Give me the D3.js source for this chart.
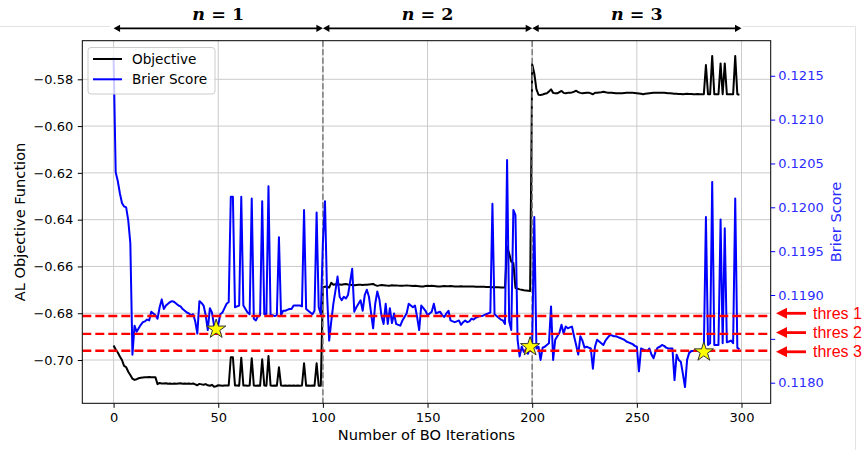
<!DOCTYPE html>
<html>
<head>
<meta charset="utf-8">
<script src="https://cdn.jsdelivr.net/npm/d3@7"></script>
<style>
  html, body { margin: 0; padding: 0; background: #ffffff; }
  svg { display: block; }
</style>
</head>
<body>
<script>
// ---------------- DATA ----------------
const objective = [
  -0.6938, -0.6955, -0.6968, -0.6985, -0.7000, -0.7025, -0.7030, -0.7050, -0.7064, -0.7080,
  -0.7085, -0.7082, -0.7078, -0.7076, -0.7075, -0.7074, -0.7074, -0.7073, -0.7074, -0.7074,
  -0.7074, -0.7103, -0.7098, -0.7100, -0.7100, -0.7099, -0.7101, -0.7100, -0.7102, -0.7100,
  -0.7101, -0.7100, -0.7099, -0.7101, -0.7100, -0.7101, -0.7100, -0.7102, -0.7100, -0.7104,
  -0.7108, -0.7102, -0.7104, -0.7106, -0.7103, -0.7108, -0.7110, -0.7106, -0.7114, -0.7112,
  -0.7108, -0.7109, -0.7110, -0.7109, -0.7109, -0.7109, -0.6988, -0.6988, -0.7109, -0.7109,
  -0.7110, -0.6990, -0.7109, -0.7109, -0.7110, -0.7109, -0.6992, -0.7109, -0.7110, -0.7109,
  -0.7110, -0.6997, -0.7109, -0.7110, -0.6983, -0.7109, -0.7110, -0.7109, -0.7110, -0.7031,
  -0.7109, -0.7110, -0.7109, -0.7110, -0.7109, -0.7110, -0.7109, -0.7110, -0.7109, -0.7110,
  -0.7109, -0.7014, -0.7110, -0.7109, -0.7110, -0.7109, -0.7110, -0.7014, -0.7110, -0.7110,
  -0.6690, -0.6686, -0.6688, -0.6690, -0.6670, -0.6678, -0.6676, -0.6677, -0.6677, -0.6678,
  -0.6676, -0.6675, -0.6677, -0.6678, -0.6679, -0.6680, -0.6679, -0.6678, -0.6678, -0.6679,
  -0.6678, -0.6678, -0.6677, -0.6676, -0.6675, -0.6680, -0.6683, -0.6681, -0.6679, -0.6680,
  -0.6681, -0.6682, -0.6682, -0.6680, -0.6681, -0.6681, -0.6682, -0.6683, -0.6683, -0.6682,
  -0.6681, -0.6682, -0.6683, -0.6684, -0.6683, -0.6684, -0.6685, -0.6686, -0.6686, -0.6684,
  -0.6683, -0.6684, -0.6683, -0.6684, -0.6685, -0.6686, -0.6686, -0.6685, -0.6684, -0.6685,
  -0.6685, -0.6684, -0.6685, -0.6686, -0.6686, -0.6686, -0.6685, -0.6686, -0.6686, -0.6686,
  -0.6686, -0.6686, -0.6686, -0.6687, -0.6687, -0.6687, -0.6687, -0.6687, -0.6688, -0.6688,
  -0.6688, -0.6689, -0.6689, -0.6689, -0.6689, -0.6690, -0.6690, -0.6690, -0.6515, -0.6545,
  -0.6580, -0.6586, -0.6692, -0.6695, -0.6698, -0.6700, -0.6702, -0.6703, -0.6704, -0.6705,
  -0.5735, -0.5775, -0.5842, -0.5866, -0.5867, -0.5865, -0.5862, -0.5860, -0.5852, -0.5843,
  -0.5858, -0.5860, -0.5860, -0.5855, -0.5850, -0.5858, -0.5860, -0.5858, -0.5857, -0.5856,
  -0.5853, -0.5849, -0.5855, -0.5858, -0.5860, -0.5859, -0.5858, -0.5857, -0.5860, -0.5864,
  -0.5858, -0.5857, -0.5856, -0.5855, -0.5853, -0.5855, -0.5857, -0.5857, -0.5858, -0.5859,
  -0.5860, -0.5860, -0.5860, -0.5860, -0.5859, -0.5858, -0.5857, -0.5857, -0.5858, -0.5859,
  -0.5860, -0.5861, -0.5862, -0.5864, -0.5862, -0.5861, -0.5860, -0.5859, -0.5858, -0.5857,
  -0.5857, -0.5858, -0.5857, -0.5858, -0.5859, -0.5860, -0.5860, -0.5861, -0.5862, -0.5862,
  -0.5863, -0.5863, -0.5864, -0.5863, -0.5862, -0.5863, -0.5863, -0.5864, -0.5864, -0.5863,
  -0.5864, -0.5864, -0.5864, -0.5739, -0.5864, -0.5864, -0.5700, -0.5864, -0.5864, -0.5864,
  -0.5732, -0.5864, -0.5732, -0.5864, -0.5864, -0.5864, -0.5864, -0.5700, -0.5864, -0.5866
];

const brier = [
  0.12171, 0.12040, 0.12030, 0.12016, 0.12005, 0.12001, 0.12000, 0.11985, 0.11959, 0.11832,
  0.11865, 0.11858, 0.11862, 0.11866, 0.11869, 0.11870, 0.11872, 0.11871, 0.11881, 0.11879,
  0.11877, 0.11873, 0.11886, 0.11895, 0.11884, 0.11888, 0.11890, 0.11892, 0.11893, 0.11892,
  0.11890, 0.11888, 0.11887, 0.11884, 0.11882, 0.11880, 0.11879, 0.11877, 0.11878, 0.11870,
  0.11856, 0.11893, 0.11891, 0.11888, 0.11877, 0.11860, 0.11885, 0.11880, 0.11865, 0.11861,
  0.11866, 0.11878, 0.11880, 0.11885, 0.11890, 0.11892, 0.12012, 0.12012, 0.11886, 0.11887,
  0.11888, 0.12012, 0.11888, 0.11884, 0.11880, 0.11878, 0.12010, 0.11873, 0.11871, 0.11876,
  0.11877, 0.12007, 0.11878, 0.11878, 0.12024, 0.11877, 0.11877, 0.11876, 0.11877, 0.11966,
  0.11877, 0.11882, 0.11882, 0.11883, 0.11884, 0.11884, 0.11888, 0.11888, 0.11888, 0.11888,
  0.11887, 0.11997, 0.11884, 0.11882, 0.11880, 0.11878, 0.11882, 0.11994, 0.11886, 0.11878,
  0.11960, 0.12007, 0.11900, 0.11848, 0.11870, 0.11890, 0.11905, 0.11921, 0.11898, 0.11894,
  0.11898, 0.11896, 0.11900, 0.11915, 0.11930, 0.11881, 0.11886, 0.11890, 0.11894, 0.11882,
  0.11900, 0.11906, 0.11898, 0.11880, 0.11862, 0.11890, 0.11904, 0.11895, 0.11876, 0.11867,
  0.11890, 0.11867, 0.11885, 0.11868, 0.11879, 0.11867, 0.11866, 0.11865, 0.11871, 0.11875,
  0.11879, 0.11890, 0.11888, 0.11886, 0.11888, 0.11875, 0.11860, 0.11888, 0.11885, 0.11882,
  0.11877, 0.11879, 0.11881, 0.11890, 0.11879, 0.11880, 0.11881, 0.11877, 0.11875, 0.11879,
  0.11882, 0.11871, 0.11870, 0.11869, 0.11870, 0.11871, 0.11866, 0.11869, 0.11871, 0.11869,
  0.11870, 0.11873, 0.11872, 0.11874, 0.11875, 0.11876, 0.11876, 0.11877, 0.11878, 0.11879,
  0.11880, 0.12004, 0.11878, 0.11876, 0.11874, 0.11872, 0.11871, 0.11867, 0.12054, 0.11870,
  0.11860, 0.11997, 0.11991, 0.11849, 0.11830, 0.11841, 0.11835, 0.11838, 0.11833, 0.11841,
  0.11845, 0.11989, 0.11839, 0.11841, 0.11826, 0.11840, 0.11841, 0.11843, 0.11845, 0.11887,
  0.11826, 0.11849, 0.11853, 0.11857, 0.11866, 0.11856, 0.11864, 0.11862, 0.11863, 0.11864,
  0.11853, 0.11843, 0.11832, 0.11853, 0.11848, 0.11840, 0.11841, 0.11840, 0.11839, 0.11816,
  0.11841, 0.11849, 0.11847, 0.11845, 0.11843, 0.11848, 0.11851, 0.11854, 0.11854, 0.11853,
  0.11853, 0.11852, 0.11851, 0.11850, 0.11849, 0.11847, 0.11846, 0.11845, 0.11844, 0.11842,
  0.11841, 0.11813, 0.11839, 0.11838, 0.11837, 0.11836, 0.11839, 0.11832, 0.11828, 0.11836,
  0.11840, 0.11841, 0.11843, 0.11842, 0.11840, 0.11839, 0.11839, 0.11839, 0.11803, 0.11832,
  0.11826, 0.11824, 0.11810, 0.11795, 0.11826, 0.11834, 0.11836, 0.11836, 0.11836, 0.11836,
  0.11837, 0.11838, 0.11835, 0.11989, 0.11843, 0.11845, 0.12029, 0.11843, 0.11843, 0.11843,
  0.11986, 0.11845, 0.11976, 0.11846, 0.11847, 0.11848, 0.11845, 0.12010, 0.11840, 0.11838
];

const xTicks = [0, 50, 100, 150, 200, 250, 300];
const leftTicks = [-0.70, -0.68, -0.66, -0.64, -0.62, -0.60, -0.58];
const rightTicks = [0.1180, 0.1185, 0.1190, 0.1195, 0.1200, 0.1205, 0.1210, 0.1215];
const rightTickLabels = ["0.1180", "", "0.1190", "0.1195", "0.1200", "0.1205", "0.1210", "0.1215"];
const phaseBounds = [100, 200];
const phases = [{label: "1", from: 0, to: 100}, {label: "2", from: 100, to: 200}, {label: "3", from: 200, to: 300}];
const thresholds = [0.118761, 0.118557, 0.118364];
const thresholdLabels = ["thres 1", "thres 2", "thres 3"];
const starIters = [49, 199, 282];
const starValues = [0.11861, 0.11841, 0.11835];
const seriesNames = ["Objective", "Brier Score"];

// ---------------- LAYOUT ----------------
const W = 863, H = 450;
const L = 82.3, R = 770.7, T = 40.7, B = 403.3;
const FONT = "DejaVu Sans";

const svg = d3.select("body").append("svg").attr("width", W).attr("height", H)
  .style("font-family", FONT);

const x = d3.scaleLinear().domain([-14.95, 313.95]).range([L, R]);
const yL = d3.scaleLinear().domain([-0.7185, -0.5635]).range([B, T]);
const yR = d3.scaleLinear().domain([0.117765, 0.12190]).range([B, T]);

// faint page border lines (from the composited source image)
const border = svg.append("g").attr("stroke", "#e3e3e3").attr("stroke-width", 1).attr("fill", "none");
border.append("line").attr("x1", 0).attr("x2", 110).attr("y1", 26.5).attr("y2", 26.5);
border.append("line").attr("x1", 743).attr("x2", 855.5).attr("y1", 26.5).attr("y2", 26.5);
border.append("line").attr("x1", 855.5).attr("x2", 855.5).attr("y1", 26.5).attr("y2", H);

// clip
svg.append("defs").append("clipPath").attr("id", "plotclip")
  .append("rect").attr("x", L).attr("y", T).attr("width", R - L).attr("height", B - T);

// grid
const grid = svg.append("g").attr("stroke", "#cbcbcb").attr("stroke-width", 1);
grid.selectAll("line.gx").data(xTicks).join("line").attr("class", "gx")
  .attr("x1", d => x(d)).attr("x2", d => x(d)).attr("y1", T).attr("y2", B);
grid.selectAll("line.gy").data(leftTicks).join("line").attr("class", "gy")
  .attr("x1", L).attr("x2", R).attr("y1", d => yL(d)).attr("y2", d => yL(d));

const plot = svg.append("g").attr("clip-path", "url(#plotclip)");

// objective line
plot.append("path").datum(objective)
  .attr("fill", "none").attr("stroke", "#000000").attr("stroke-width", 2)
  .attr("stroke-linejoin", "round")
  .attr("d", d3.line().x((d, i) => x(i)).y(d => yL(d)));

// vertical phase lines
plot.selectAll("line.phase").data(phaseBounds).join("line").attr("class", "phase")
  .attr("x1", d => x(d)).attr("x2", d => x(d)).attr("y1", T).attr("y2", B)
  .attr("stroke", "#808080").attr("stroke-width", 1.6).attr("stroke-dasharray", "6,2.5");

// brier line
plot.append("path").datum(brier)
  .attr("fill", "none").attr("stroke", "#0000ff").attr("stroke-width", 2)
  .attr("stroke-linejoin", "round")
  .attr("d", d3.line().x((d, i) => x(i)).y(d => yR(d)));

// thresholds
plot.selectAll("line.thr").data(thresholds).join("line").attr("class", "thr")
  .attr("x1", L).attr("x2", R).attr("y1", d => yR(d)).attr("y2", d => yR(d))
  .attr("stroke", "#ff0000").attr("stroke-width", 2.4).attr("stroke-dasharray", "9,4");

// stars
plot.selectAll("path.star").data(starIters).join("path").attr("class", "star")
  .attr("transform", (d, i) => `translate(${x(d)},${yR(starValues[i])})`)
  .attr("d", d3.symbol(d3.symbolStar).size(115))
  .attr("fill", "#ffff00").attr("stroke", "#333333").attr("stroke-width", 1);

// frame
svg.append("rect").attr("x", L).attr("y", T).attr("width", R - L).attr("height", B - T)
  .attr("fill", "none").attr("stroke", "#000000").attr("stroke-width", 1);

// axes
const tickSize = 4.5;
const gx = svg.append("g").attr("transform", `translate(0,${B})`)
  .call(d3.axisBottom(x).tickValues(xTicks).tickFormat(d3.format("d")).tickSize(tickSize).tickPadding(5));
const gl = svg.append("g").attr("transform", `translate(${L},0)`)
  .call(d3.axisLeft(yL).tickValues(leftTicks).tickFormat(d3.format(".2f")).tickSize(tickSize).tickPadding(4.5));
const gr = svg.append("g").attr("transform", `translate(${R},0)`)
  .call(d3.axisRight(yR).tickValues(rightTicks).tickFormat((d, i) => rightTickLabels[i]).tickSize(tickSize).tickPadding(3));
[gx, gl, gr].forEach(g => {
  g.select(".domain").remove();
  g.selectAll("text").attr("font-size", 13).attr("font-family", FONT);
});
gx.selectAll("text").attr("fill", "#000");
gl.selectAll("text").attr("fill", "#000");
gr.selectAll("line").attr("stroke", "#0000ff");
gr.selectAll("text").attr("fill", "#2b2bff");

// axis labels
svg.append("text").attr("x", (L + R) / 2).attr("y", 440).attr("text-anchor", "middle")
  .attr("font-size", 14.6).attr("fill", "#000").text("Number of BO Iterations");
svg.append("text").attr("transform", `translate(25,${(T + B) / 2}) rotate(-90)`)
  .attr("text-anchor", "middle").attr("font-size", 14.6).attr("fill", "#000").text("AL Objective Function");
svg.append("text").attr("transform", `translate(841,${(T + B) / 2}) rotate(-90)`)
  .attr("text-anchor", "middle").attr("font-size", 14.6).attr("fill", "#2b2bff").text("Brier Score");

// legend
const lg = svg.append("g");
lg.append("rect").attr("x", 88).attr("y", 47.5).attr("width", 127).attr("height", 46.5).attr("rx", 3)
  .attr("fill", "#ffffff").attr("fill-opacity", 0.8).attr("stroke", "#cccccc").attr("stroke-width", 1);
const legendColors = ["#000000", "#0000ff"];
seriesNames.forEach((name, i) => {
  const yy = 59 + i * 20.3;
  lg.append("line").attr("x1", 93).attr("x2", 122).attr("y1", yy).attr("y2", yy)
    .attr("stroke", legendColors[i]).attr("stroke-width", 2);
  lg.append("text").attr("x", 132).attr("y", yy).attr("dy", "0.35em")
    .attr("font-size", 13.6).attr("fill", "#000").text(name);
});

// top phase arrows
const ay = 28.3;
const topG = svg.append("g");
function head(g, tipX, dir, yy, len, half, color) {
  g.append("path").attr("d", `M${tipX},${yy} L${tipX + dir * len},${yy - half} L${tipX + dir * len},${yy + half} Z`)
    .attr("fill", color);
}
phases.forEach(p => {
  const x1 = x(p.from), x2 = x(p.to);
  topG.append("line").attr("x1", x1 + 3).attr("x2", x2 - 3).attr("y1", ay).attr("y2", ay)
    .attr("stroke", "#000").attr("stroke-width", 1.8);
  head(topG, x1, 1, ay, 6.5, 3.6, "#000");
  head(topG, x2, -1, ay, 6.5, 3.6, "#000");
  const t = topG.append("text").attr("x", (x1 + x2) / 2).attr("y", 20).attr("text-anchor", "middle")
    .attr("font-family", "DejaVu Serif").attr("font-weight", "bold").attr("font-size", 17.5).attr("fill", "#000");
  t.append("tspan").attr("font-style", "italic").text("n");
  t.append("tspan").text(" = " + p.label);
});

// threshold annotations (outside, right)
const ann = svg.append("g");
const annY = [313.3, 332.6, 351.8];
thresholdLabels.forEach((lab, i) => {
  const yy = annY[i];
  ann.append("line").attr("x1", 786).attr("x2", 806).attr("y1", yy).attr("y2", yy)
    .attr("stroke", "#ff0000").attr("stroke-width", 2.8);
  head(ann, 776, 1, yy, 11, 5.5, "#ff0000");
  ann.append("text").attr("x", 813).attr("y", yy).attr("dy", "0.35em")
    .attr("font-family", "Liberation Sans").attr("font-size", 16).attr("fill", "#ff0000").text(lab);
});
</script>
</body>
</html>
